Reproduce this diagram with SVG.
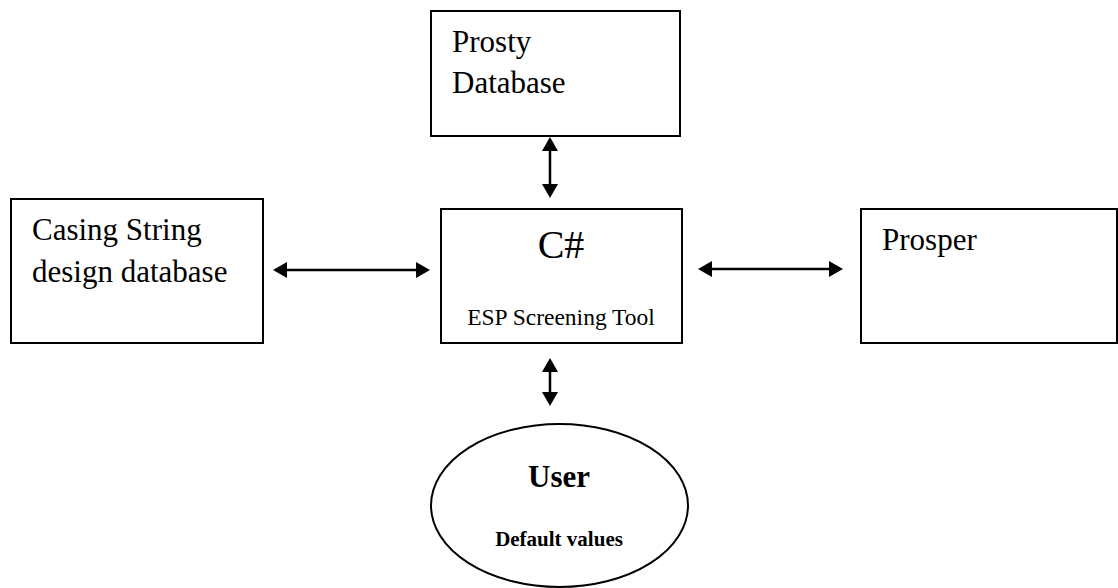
<svg xmlns="http://www.w3.org/2000/svg" width="1118" height="588" viewBox="0 0 1118 588">
<style>
.box{fill:#fff;stroke:#000;stroke-width:2}
.t{font-family:"Liberation Serif","Times New Roman",serif;fill:#000}
.conn{stroke:#000;stroke-width:2.5;fill:none}
</style>
<defs>
<marker id="ah" markerUnits="userSpaceOnUse" markerWidth="14" markerHeight="16" refX="10" refY="8" orient="auto-start-reverse" viewBox="0 0 14 16">
<path d="M0,0 L14,8 L0,16 z" fill="#000"/>
</marker>
</defs>
<rect width="1118" height="588" fill="#fff"/>
<g id="prosty">
<rect class="box" x="431" y="11" width="249" height="125"/>
<text class="t" x="452" y="52" font-size="31">Prosty</text>
<text class="t" x="452" y="93" font-size="31">Database</text>
</g>
<g id="casing">
<rect class="box" x="11" y="199" width="252" height="144"/>
<text class="t" x="32" y="240" font-size="31">Casing String</text>
<text class="t" x="32" y="282" font-size="31">design database</text>
</g>
<g id="csharp">
<rect class="box" x="441" y="209" width="241" height="134"/>
<text class="t" x="561" y="258" font-size="40" text-anchor="middle">C#</text>
<text class="t" x="561" y="325" font-size="23.5" text-anchor="middle">ESP Screening Tool</text>
</g>
<g id="prosper">
<rect class="box" x="861" y="209" width="256" height="134"/>
<text class="t" x="882" y="250" font-size="31">Prosper</text>
</g>
<g id="user">
<ellipse class="box" cx="559.5" cy="505.5" rx="128.5" ry="81.5"/>
<text class="t" x="559" y="487" font-size="31" font-weight="bold" text-anchor="middle">User</text>
<text class="t" x="559" y="546" font-size="21" font-weight="bold" text-anchor="middle">Default values</text>
</g>
<g id="connectors">
<line class="conn" x1="550" y1="141" x2="550" y2="194" marker-start="url(#ah)" marker-end="url(#ah)"/>
<line class="conn" x1="550" y1="362" x2="550" y2="402" marker-start="url(#ah)" marker-end="url(#ah)"/>
<line class="conn" x1="277" y1="270" x2="426" y2="270" marker-start="url(#ah)" marker-end="url(#ah)"/>
<line class="conn" x1="702" y1="269" x2="839" y2="269" marker-start="url(#ah)" marker-end="url(#ah)"/>
</g>
</svg>
